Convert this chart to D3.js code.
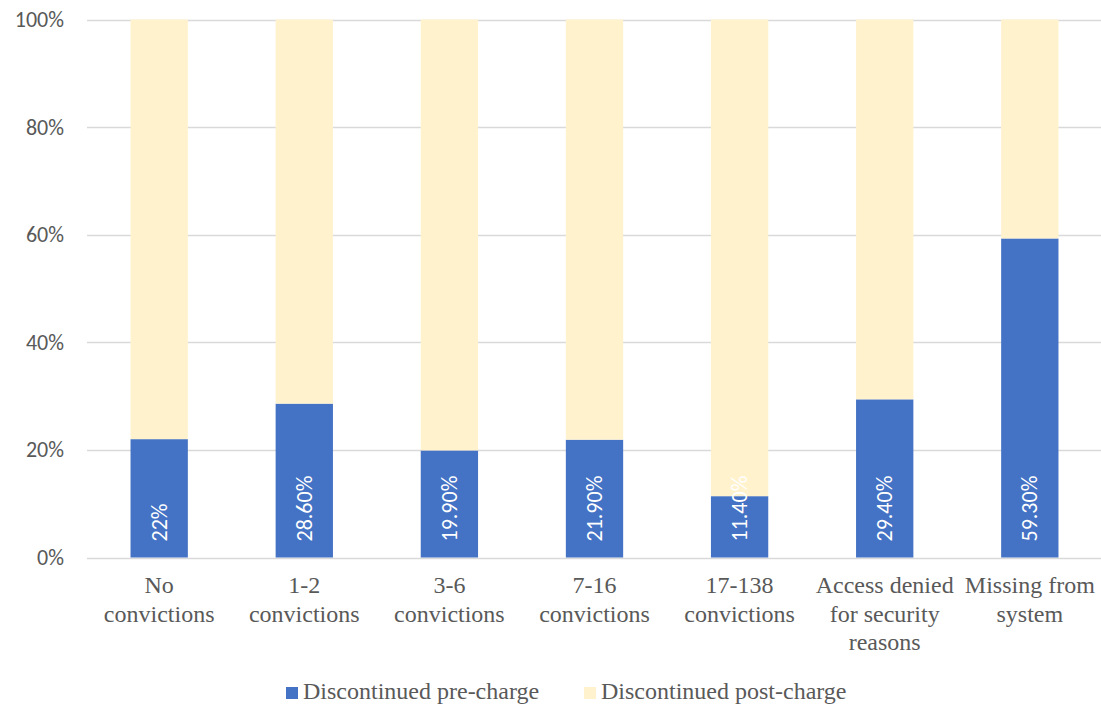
<!DOCTYPE html>
<html>
<head>
<meta charset="utf-8">
<script src="https://cdn.jsdelivr.net/npm/d3@7/dist/d3.min.js"></script>
<style>
  html, body { margin: 0; padding: 0; background: #fff; }
  svg { display: block; }
</style>
</head>
<body>
<svg id="chart" width="1101" height="706"></svg>
<script>
// Case outcomes by number of previous convictions
const categories = [
  "No convictions",
  "1-2 convictions",
  "3-6 convictions",
  "7-16 convictions",
  "17-138 convictions",
  "Access denied for security reasons",
  "Missing from system"
];
const preCharge = [22, 28.6, 19.9, 21.9, 11.4, 29.4, 59.3];
const postCharge = [78, 71.4, 80.1, 78.1, 88.6, 70.6, 40.7];
const preLabels = ["22%", "28.60%", "19.90%", "21.90%", "11.40%", "29.40%", "59.30%"];
const yTicks = [0, 20, 40, 60, 80, 100];
const seriesNames = ["Discontinued pre-charge", "Discontinued post-charge"];
const seriesColors = ["#4472C4", "#FFF2CC"];

const SERIF = "Liberation Serif";
const SANS = "Carlito";

const svg = d3.select("#chart");
const margin = { left: 87, right: 0, top: 19.5, bottom: 148.5 };
const W = 1101, H = 706;

const x = d3.scaleBand()
  .domain(categories)
  .range([margin.left, W - margin.right + 1])
  .paddingInner(0.605)
  .paddingOuter(0.3);

const y = d3.scaleLinear()
  .domain([0, 100])
  .range([H - margin.bottom, margin.top]);

// gridlines
svg.append("g")
  .selectAll("line")
  .data(yTicks)
  .join("line")
  .attr("x1", margin.left)
  .attr("x2", W)
  .attr("y1", d => Math.round(y(d)) + 0.5)
  .attr("y2", d => Math.round(y(d)) + 0.5)
  .attr("stroke", "#d9d9d9")
  .attr("stroke-width", 1.3);

// y axis labels
const yAxis = d3.axisLeft(y)
  .tickValues(yTicks)
  .tickFormat(d => d + "%")
  .tickSize(0)
  .tickPadding(23);
svg.append("g")
  .attr("transform", `translate(${margin.left},0)`)
  .call(yAxis)
  .call(g => g.select(".domain").remove())
  .attr("font-family", SANS)
  .attr("font-size", 22)
  .call(g => g.selectAll("text")
    .attr("font-family", SANS)
    .attr("font-size", 22)
    .attr("fill", "#595959"));

// stacked bars
const rows = categories.map((c, i) => ({ cat: c, pre: preCharge[i], post: postCharge[i] }));
const stack = d3.stack().keys(["pre", "post"])(rows);

svg.append("g")
  .selectAll("g")
  .data(stack)
  .join("g")
  .attr("fill", (d, i) => seriesColors[i])
  .selectAll("rect")
  .data(d => d)
  .join("rect")
  .attr("x", d => x(d.data.cat))
  .attr("width", x.bandwidth())
  .attr("y", d => y(d[1]))
  .attr("height", d => y(d[0]) - y(d[1]));

// value labels inside the pre-charge bars, reading bottom to top
svg.append("g")
  .selectAll("text")
  .data(rows)
  .join("text")
  .attr("transform", d => `translate(${x(d.cat) + x.bandwidth() / 2 + 7.5},${y(0) - 16}) rotate(-90)`)
  .attr("text-anchor", "start")
  .attr("font-family", SANS)
  .attr("font-size", 22)
  .attr("fill", "#ffffff")
  .text((d, i) => preLabels[i]);

// category labels, wrapped to the band width
const catG = svg.append("g")
  .attr("fill", "#595959")
  .attr("text-anchor", "middle");

categories.forEach(cat => {
  const cx = x(cat) + x.bandwidth() / 2;
  const t = catG.append("text")
    .attr("x", cx)
    .attr("y", 593)
    .attr("font-family", SERIF)
    .attr("font-size", 24);
  const words = cat.split(" ");
  let line = [];
  let tspan = t.append("tspan").attr("x", cx).attr("dy", 0)
    .attr("font-family", SERIF).attr("font-size", 24);
  words.forEach(w => {
    line.push(w);
    tspan.text(line.join(" "));
    if (tspan.node().getComputedTextLength() > 140 && line.length > 1) {
      line.pop();
      tspan.text(line.join(" "));
      line = [w];
      tspan = t.append("tspan")
        .attr("x", cx)
        .attr("dy", 28.5)
        .attr("font-family", SERIF)
        .attr("font-size", 24)
        .text(w);
    }
  });
});

// legend
const legend = svg.append("g")
  .attr("fill", "#595959");
const legendX = [286, 584];
seriesNames.forEach((name, i) => {
  const g = legend.append("g").attr("transform", `translate(${legendX[i]},687)`);
  g.append("rect")
    .attr("width", 12).attr("height", 12)
    .attr("fill", seriesColors[i]);
  g.append("text")
    .attr("x", 17)
    .attr("y", 12)
    .attr("font-family", SERIF)
    .attr("font-size", 24)
    .text(name);
});
</script>
</body>
</html>
